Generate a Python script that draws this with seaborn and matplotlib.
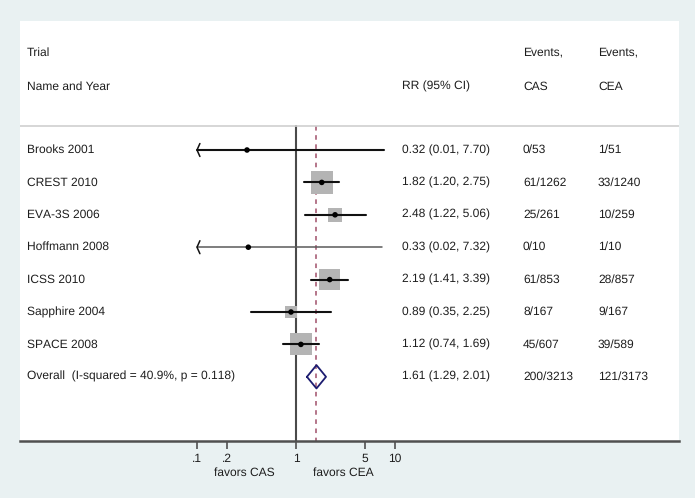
import numpy as np
import pandas as pd
import seaborn as sns
import matplotlib.pyplot as plt
import matplotlib.transforms as mtransforms

# data
trials = ['Brooks 2001', 'CREST 2010', 'EVA-3S 2006', 'Hoffmann 2008',
          'ICSS 2010', 'Sapphire 2004', 'SPACE 2008']
rr = [0.32, 1.82, 2.48, 0.33, 2.19, 0.89, 1.12]
lo = [0.01, 1.20, 1.22, 0.02, 1.41, 0.35, 0.74]
hi = [7.70, 2.75, 5.06, 7.32, 3.39, 2.25, 1.69]
weight = [0.4, 24.5, 9.7, 0.4, 22.0, 7.1, 24.0]
ev_cas = ['0/53', '61/1262', '25/261', '0/10', '61/853', '8/167', '45/607']
ev_cea = ['1/51', '33/1240', '10/259', '1/10', '28/857', '9/167', '39/589']

overall_label = 'Overall  (I-squared = 40.9%, p = 0.118)'
overall_rr, overall_lo, overall_hi = 1.61, 1.29, 2.01
overall_cas, overall_cea = '200/3213', '121/3173'

tick_vals = [0.1, 0.2, 1, 5, 10]
tick_labels = ['.1', '.2', '1', '5', '10']
x_clip = 0.1

sns.set_style('white')
plt.rcParams['font.family'] = ['Liberation Sans', 'DejaVu Sans']
plt.rcParams['text.hinting'] = 'no_hinting'
plt.rcParams['text.hinting_factor'] = 1

bg = '#e9f1f2'
txt = '#1e1e1e'
fs = 8.7

fig = plt.figure(figsize=(6.95, 4.98), dpi=100, facecolor=bg)
W, H = 695, 498
ax = fig.add_axes([20 / W, (H - 441) / H, 659 / W, 420 / H])
ax.set_facecolor('white')

df = pd.DataFrame({'trial': trials, 'rr': rr, 'lo': lo, 'hi': hi,
                   'weight': weight, 'row': np.arange(len(trials))})
df['lo_clip'] = df['lo'].clip(lower=x_clip)
df['box'] = (22 * np.sqrt(df['weight'] / 24.0) * 0.72) ** 2

# weight squares
sns.scatterplot(data=df, x='rr', y='row', size='box', sizes=(df['box'].min(), df['box'].max()),
                marker='s', color='#b4b4b4', edgecolor='none', legend=False, ax=ax, zorder=2)

# confidence intervals
for _, r in df.iterrows():
    clipped = r['lo'] < x_clip
    lc = '#5a5a5a' if r['trial'].startswith('Hoffmann') else '#111111'
    lw = 1.1 if r['trial'].startswith('Hoffmann') else 1.5
    ax.plot([r['lo_clip'], r['hi']], [r['row'], r['row']], color=lc, lw=lw, zorder=3)
    if clipped:
        ax.plot([x_clip * 1.07, x_clip, x_clip * 1.07], [r['row'] - 0.2, r['row'], r['row'] + 0.2],
                color='#111111', lw=1.1, zorder=3)

# point estimates
sns.scatterplot(data=df, x='rr', y='row', s=16, color='black', edgecolor='none',
                legend=False, ax=ax, zorder=4)

# overall diamond
yo = len(trials)
ax.plot([overall_lo, overall_rr, overall_hi, overall_rr, overall_lo],
        [yo, yo - 0.36, yo, yo + 0.36, yo], color='#1c1c70', lw=1.3, zorder=4)

ax.set_xscale('log')
ax.set_xlim(10 ** (-1 - 177 / 99), 10 ** (1 + 284 / 99))
top = (21 - 150) / 32.4
bottom = (441 - 150) / 32.4
ax.set_ylim(bottom, top)

sep = -0.74
ax.axhline(sep, color='#cfcfcf', lw=1.2)
ax.plot([1, 1], [sep, bottom], color='#4a4a4a', lw=1.5, zorder=1)
ax.plot([overall_rr] * 2, [sep, bottom], color='#a0506a', lw=1.1,
        dashes=(3, 3), zorder=1)

# spines and ticks
for s in ['top', 'left', 'right']:
    ax.spines[s].set_visible(False)
ax.spines['bottom'].set_color('#505050')
ax.spines['bottom'].set_linewidth(1.8)
ax.set_xticks(tick_vals)
ax.set_xticklabels(tick_labels, fontsize=fs, color=txt)
ax.xaxis.set_minor_locator(plt.NullLocator())
ax.tick_params(axis='x', bottom=True, length=6, width=1.2, color='#505050', pad=3)
ax.set_yticks([])
ax.set_xlabel('')
ax.set_ylabel('')

xt = ax.get_xaxis_transform()
ax.text(10 ** (-1 + 47 / 99), -0.075, 'favors CAS', transform=xt, ha='center',
        va='center', fontsize=fs, color=txt)
ax.text(10 ** (47 / 99), -0.075, 'favors CEA', transform=xt, ha='center',
        va='center', fontsize=fs, color=txt)

# text columns (x in axes fraction)
col = mtransforms.blended_transform_factory(ax.transAxes, ax.transData)
def cx(px):
    return (px - 20) / 659

hdr1, hdr2 = -3.0, -1.95
ax.text(cx(27), hdr1, 'Trial', transform=col, va='center', fontsize=fs, color=txt)
ax.text(cx(27), hdr2, 'Name and Year', transform=col, va='center', fontsize=fs, color=txt)
ax.text(cx(402), hdr2, 'RR (95% CI)', transform=col, va='center', fontsize=fs, color=txt)
ax.text(cx(523), hdr1, 'Events,', transform=col, va='center', fontsize=fs, color=txt)
ax.text(cx(523), hdr2, 'CAS', transform=col, va='center', fontsize=fs, color=txt)
ax.text(cx(598), hdr1, 'Events,', transform=col, va='center', fontsize=fs, color=txt)
ax.text(cx(598), hdr2, 'CEA', transform=col, va='center', fontsize=fs, color=txt)

for i, name in enumerate(trials):
    ax.text(cx(27), i, name, transform=col, va='center', fontsize=fs, color=txt)
    ax.text(cx(402), i, f'{rr[i]:.2f} ({lo[i]:.2f}, {hi[i]:.2f})', transform=col,
            va='center', fontsize=fs, color=txt)
    ax.text(cx(523), i, ev_cas[i], transform=col, va='center', fontsize=fs, color=txt)
    ax.text(cx(598), i, ev_cea[i], transform=col, va='center', fontsize=fs, color=txt)

ax.text(cx(27), yo, overall_label, transform=col, va='center', fontsize=fs, color=txt)
ax.text(cx(402), yo, f'{overall_rr:.2f} ({overall_lo:.2f}, {overall_hi:.2f})',
        transform=col, va='center', fontsize=fs, color=txt)
ax.text(cx(523), yo, overall_cas, transform=col, va='center', fontsize=fs, color=txt)
ax.text(cx(598), yo, overall_cea, transform=col, va='center', fontsize=fs, color=txt)

fig.savefig('out.png', dpi=100, facecolor=bg)
